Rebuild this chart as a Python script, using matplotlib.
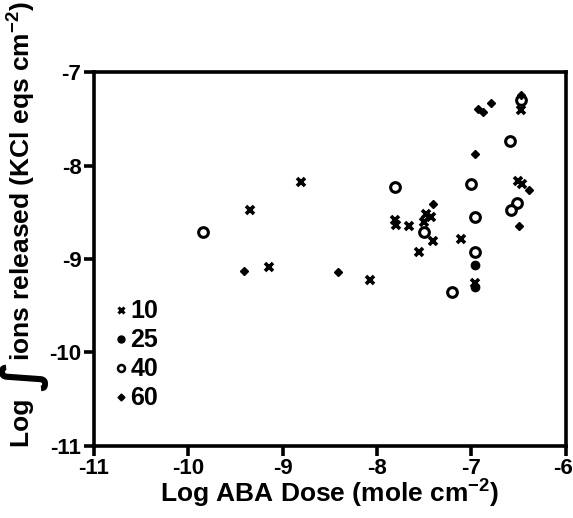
import matplotlib
matplotlib.use("Agg")
import matplotlib.pyplot as plt
import matplotlib.transforms as mtransforms
from matplotlib.lines import Line2D

# Data: (log ABA dose, log ions released) per dose group
x10 = [-8.81, -9.35, -9.14, -8.07, -7.81, -7.80, -7.66, -7.48, -7.43, -7.50, -7.41, -7.55, -7.11, -6.96, -6.47, -6.50, -6.46]
y10 = [-8.18, -8.48, -9.09, -9.22, -8.58, -8.64, -8.65, -8.52, -8.55, -8.60, -8.81, -8.92, -8.79, -9.26, -7.41, -8.17, -8.20]

x25 = [-6.96, -6.96]
y25 = [-9.06, -9.30]

x40 = [-9.84, -7.81, -7.50, -7.20, -7.00, -6.96, -6.96, -6.59, -6.47, -6.52, -6.58]
y40 = [-8.71, -8.23, -8.71, -9.35, -8.20, -8.55, -8.92, -7.74, -7.30, -8.40, -8.48]

x60 = [-9.41, -8.41, -7.41, -6.96, -6.93, -6.87, -6.79, -6.47, -6.39, -6.49]
y60 = [-9.13, -9.14, -8.41, -7.88, -7.40, -7.43, -7.33, -7.25, -8.26, -8.65]

legend_labels = ["10", "25", "40", "60"]
xticks = [-11, -10, -9, -8, -7, -6]
yticks = [-11, -10, -9, -8, -7]
ylabel_parts = ["Log ", "\u222b", "ions released (KCl eqs cm$^{-2}$)"]

plt.rcParams['font.family'] = ['Liberation Sans', 'DejaVu Sans']
plt.rcParams['font.weight'] = 'bold'
plt.rcParams['mathtext.fontset'] = 'custom'
plt.rcParams['mathtext.rm'] = 'Liberation Sans:bold'
plt.rcParams['mathtext.bf'] = 'Liberation Sans:bold'
plt.rcParams['mathtext.default'] = 'bf'

W, H = 573, 518
fig = plt.figure(figsize=(W / 100, H / 100), dpi=100)
ax = fig.add_axes([0.164, 0.139, 0.823, 0.722])

ax.plot(x10, y10, linestyle='none', marker='x', ms=5.5, mew=2.6, color='black')
ax.plot(x25, y25, linestyle='none', marker='o', ms=6, color='black')
ax.plot(x40, y40, linestyle='none', marker='o', ms=7, mfc='white', mec='black', mew=2.2)
ax.plot(x60, y60, linestyle='none', marker='D', ms=4.5, color='black')

ax.set_xlim(-11, -6)
ax.set_ylim(-11, -7)
ax.set_xticks(xticks)
ax.set_yticks(yticks)
ax.set_xticklabels([str(t) for t in xticks], fontsize=16, fontweight='bold')
ax.set_yticklabels([str(t) for t in yticks], fontsize=16, fontweight='bold')

for s in ax.spines.values():
    s.set_linewidth(2.6)
ax.tick_params(axis='both', direction='out', length=7, width=2.6, pad=2)

lbl = ax.get_xticklabels()[-1]
lbl.set_transform(lbl.get_transform() + mtransforms.ScaledTranslation(-3 / 100, 0, fig.dpi_scale_trans))

ax.set_xlabel(r"Log ABA Dose (mole cm$^{-2}$)", fontsize=19, fontweight='bold', labelpad=-1)

# y label assembled from pieces so the integral sign can be large
renderer = fig.canvas.get_renderer()
xc = 22 / W
y_px = 447  # from top
sizes = [19, 36, 19]
offs = [0, 2, 0]
for part, fs, off in zip(ylabel_parts, sizes, offs):
    t = fig.text(xc + off / W, 1 - y_px / H, part, rotation=90, ha='center', va='bottom',
                 fontsize=fs, fontweight='bold',
                 family=['DejaVu Sans'] if part == "\u222b" else ['Liberation Sans', 'DejaVu Sans'])
    bb = t.get_window_extent(renderer)
    y_px -= bb.height

handles = [
    Line2D([], [], linestyle='none', marker='x', ms=4.5, mew=2.2, color='black'),
    Line2D([], [], linestyle='none', marker='o', ms=5, color='black'),
    Line2D([], [], linestyle='none', marker='o', ms=5, mfc='white', mec='black', mew=1.8),
    Line2D([], [], linestyle='none', marker='D', ms=3.5, color='black'),
]
leg = ax.legend(handles, legend_labels, loc='lower left', bbox_to_anchor=(0.0, 0.035),
                frameon=False, handlelength=0.4, handletextpad=0.15, labelspacing=0.2,
                prop={'size': 18, 'weight': 'bold'})

fig.savefig("out.png", dpi=100)
